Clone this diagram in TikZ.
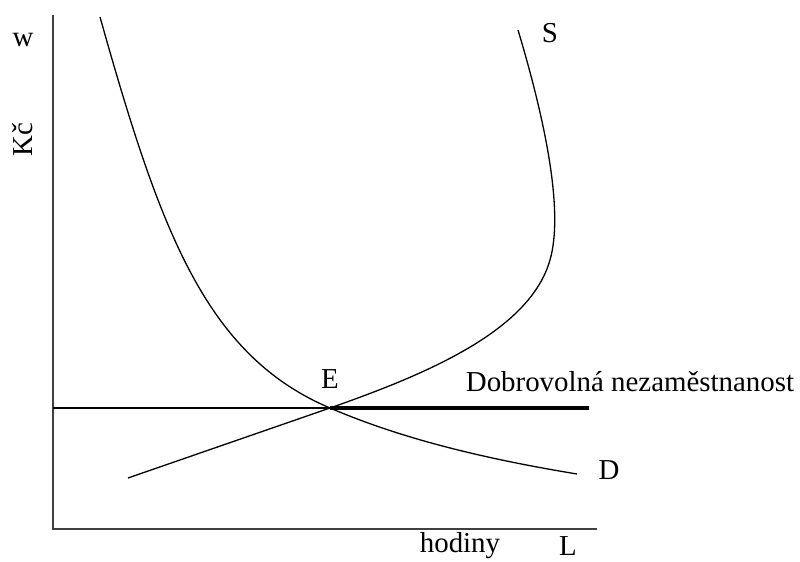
\documentclass[tikz,border=0pt]{standalone}
\usepackage{fontspec}
\setmainfont{Liberation Serif}
\usetikzlibrary{positioning}
\tikzset{
  axis/.style={draw=black!75,line width=2pt},
  curve/.style={draw=black,line width=1.3pt},
  wageline/.style={draw=black,line width=1.4pt},
  unemp/.style={draw=black,line width=5pt},
  lbl/.style={font=\fontsize{29}{32}\selectfont,inner sep=0pt}
}
\begin{document}
\begin{tikzpicture}[x=1bp,y=-1bp]
\useasboundingbox (0,0) rectangle (800,562);
\coordinate (origin) at (53,529);
\coordinate (ytop) at (53,15);
\coordinate (xend) at (597,529);
\coordinate (wleft) at (53,408);
\coordinate (E) at (330,408);
\coordinate (uend) at (589,408);
\coordinate (Dtop) at (100,17);
\coordinate (Dend) at (577,474);
\coordinate (Sstart) at (128,478);
\coordinate (Sbend) at (550,260);
\coordinate (Stop) at (518,30);
% axes
\draw[axis] (ytop)--(origin)--(xend);
% wage level
\draw[wageline] (wleft)--(E);
\draw[unemp] (E)--(uend);
% demand curve
\draw[curve] (Dtop) .. controls (160,230) and (205,355) .. (E)
  .. controls (400,438) and (480,458) .. (Dend);
% supply curve
\draw[curve] (Sstart) -- (E) .. controls (430,373) and (530,330) .. (Sbend)
  .. controls (564,211) and (545,120) .. (Stop);
% labels
\node[lbl] (w) at (23,40) {w};
\node[lbl,rotate=90] (kc) at (23,140) {Kč};
\node[lbl] (Elbl) at (330,379) {E};
\node[lbl] (Slbl) at (550,33) {S};
\node[lbl] (Dlbl) at (609,470) {D};
\node[lbl] (dobro) at (630,382) {Dobrovolná nezaměstnanost};
\node[lbl] (hod) at (460,546) {hodiny};
\node[lbl] (Llbl) at (568,546) {L};
\end{tikzpicture}
\end{document}
